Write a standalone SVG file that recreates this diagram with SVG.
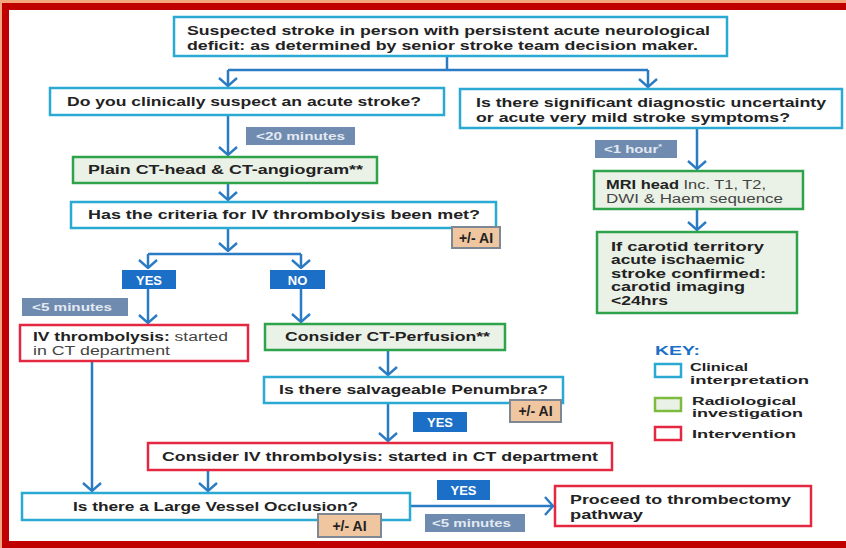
<svg xmlns="http://www.w3.org/2000/svg" width="846" height="548" viewBox="0 0 846 548">
<defs>
<marker id="chev" viewBox="0 0 10 20" refX="9" refY="10" markerWidth="10" markerHeight="20" markerUnits="userSpaceOnUse" orient="auto">
<path d="M1,1 L9,10 L1,19" fill="none" stroke="#2B7BC4" stroke-width="2.4"/>
</marker>
<style>
text{font-family:"Liberation Sans",Arial,sans-serif;fill:#222;}
.t{font-size:12.5px;font-weight:700;}
.n{font-weight:400;fill:#444;}
.clin{fill:#fff;stroke:#2AAAD2;stroke-width:2.5;}
.rad{fill:#EAF1E6;stroke:#2FA34B;stroke-width:2.5;}
.int{fill:#fff;stroke:#E52842;stroke-width:2.5;}
.yes{fill:#1C6FC7;}
.yt{font-size:13px;font-weight:700;fill:#fff;}
.grey{fill:#6F8BAF;}
.gt{font-size:11px;font-weight:700;fill:#E3E9F2;}
.ai{fill:#F0C6A0;stroke:#7D8894;stroke-width:2;}
.at{font-size:14px;font-weight:700;fill:#222;}
.c{fill:none;stroke:#2B7BC4;stroke-width:2.5;}
.ca{fill:none;stroke:#2B7BC4;stroke-width:2.5;marker-end:url(#chev);}
.key{font-size:13px;font-weight:700;fill:#1C6FC7;}
.k{font-size:11px;font-weight:700;}
.cr{font-size:12px;font-weight:700;}
</style>
</defs>
<rect x="0" y="0" width="846" height="548" fill="#F2A77C"/>
<rect x="2" y="3" width="844" height="545" fill="#C00000"/>
<rect x="9" y="10" width="837" height="531" fill="#fff"/>

<g id="connectors">
<path class="c" d="M447,56 V70 M228,70 H648"/>
<path class="ca" d="M228,70 V86"/>
<path class="ca" d="M648,70 V87"/>
<path class="ca" d="M228,115 V155"/>
<path class="ca" d="M228,183 V200"/>
<path class="ca" d="M228,228 V251"/>
<path class="c" d="M148,254 H301"/>
<path class="ca" d="M148,254 V268"/>
<path class="ca" d="M301,254 V268"/>
<path class="ca" d="M148,289 V323"/>
<path class="ca" d="M301,289 V322"/>
<path class="ca" d="M388,350 V375"/>
<path class="ca" d="M388,403 V441"/>
<path class="ca" d="M92,361 V491"/>
<path class="ca" d="M208,470 V491"/>
<path class="ca" d="M410,506 H553"/>
<path class="ca" d="M697,128 V169"/>
<path class="ca" d="M697,209 V230"/>
</g>

<g id="n-suspected">
<rect class="clin" x="174" y="17" width="553" height="39"/>
<text class="t" x="187" y="35" textLength="523" lengthAdjust="spacingAndGlyphs">Suspected stroke in person with persistent acute neurological</text>
<text class="t" x="187" y="50" textLength="511" lengthAdjust="spacingAndGlyphs">deficit: as determined by senior stroke team decision maker.</text>
</g>

<g id="n-clinically">
<rect class="clin" x="50" y="88" width="394" height="27"/>
<text class="t" x="67" y="106" textLength="354" lengthAdjust="spacingAndGlyphs">Do you clinically suspect an acute stroke?</text>
</g>

<g id="n-uncertainty">
<rect class="clin" x="460" y="89" width="382" height="39"/>
<text class="t" x="476" y="107" textLength="350" lengthAdjust="spacingAndGlyphs">Is there significant diagnostic uncertainty</text>
<text class="t" x="476" y="122" textLength="314" lengthAdjust="spacingAndGlyphs">or acute very mild stroke symptoms?</text>
</g>

<g id="l-20min">
<rect class="grey" x="246" y="127" width="109" height="18"/>
<text class="gt" x="256" y="140" textLength="89" lengthAdjust="spacingAndGlyphs">&lt;20 minutes</text>
</g>

<g id="n-plainct">
<rect class="rad" x="73" y="157" width="304" height="26"/>
<text class="t" x="88" y="174" textLength="275" lengthAdjust="spacingAndGlyphs">Plain CT-head &amp; CT-angiogram**</text>
</g>

<g id="n-criteria">
<rect class="clin" x="71" y="202" width="425" height="26"/>
<text class="t" x="88" y="219" textLength="392" lengthAdjust="spacingAndGlyphs">Has the criteria for IV thrombolysis been met?</text>
</g>

<g id="ai-1">
<rect class="ai" x="452" y="227" width="48" height="21"/>
<text class="at" x="476" y="242.5" text-anchor="middle">+/- AI</text>
</g>

<g id="l-yes1">
<rect class="yes" x="122" y="270" width="54" height="19"/>
<text class="yt" x="149" y="284.5" text-anchor="middle">YES</text>
</g>

<g id="l-no">
<rect class="yes" x="270" y="270" width="55" height="19"/>
<text class="yt" x="297.5" y="284.5" text-anchor="middle">NO</text>
</g>

<g id="l-5min1">
<rect class="grey" x="22" y="298" width="106" height="18"/>
<text class="gt" x="32" y="311" textLength="80" lengthAdjust="spacingAndGlyphs">&lt;5 minutes</text>
</g>

<g id="n-ivthrombolysis">
<rect class="int" x="20" y="325" width="228" height="36"/>
<text class="t" x="33" y="341" textLength="195" lengthAdjust="spacingAndGlyphs">IV thrombolysis:<tspan class="n"> started</tspan></text>
<text class="t n" x="33" y="355" textLength="137" lengthAdjust="spacingAndGlyphs">in CT department</text>
</g>

<g id="n-ctperfusion">
<rect class="rad" x="265" y="324" width="240" height="26"/>
<text class="t" x="285" y="341" textLength="205" lengthAdjust="spacingAndGlyphs">Consider CT-Perfusion**</text>
</g>

<g id="n-penumbra">
<rect class="clin" x="264" y="377" width="299" height="26"/>
<text class="t" x="279" y="394" textLength="269" lengthAdjust="spacingAndGlyphs">Is there salvageable Penumbra?</text>
</g>

<g id="ai-2">
<rect class="ai" x="510" y="400" width="51" height="22"/>
<text class="at" x="535.5" y="416" text-anchor="middle">+/- AI</text>
</g>

<g id="l-yes2">
<rect class="yes" x="413" y="412" width="54" height="20"/>
<text class="yt" x="440" y="427" text-anchor="middle">YES</text>
</g>

<g id="n-considerivt">
<rect class="int" x="148" y="443" width="464" height="27"/>
<text class="t" x="162" y="461" textLength="436" lengthAdjust="spacingAndGlyphs">Consider IV thrombolysis: started in CT department</text>
</g>

<g id="n-lvo">
<rect class="clin" x="22" y="493" width="388" height="27"/>
<text class="t" x="73" y="511" textLength="285" lengthAdjust="spacingAndGlyphs">Is there a Large Vessel Occlusion?</text>
</g>

<g id="ai-3">
<rect class="ai" x="318" y="514" width="63" height="23"/>
<text class="at" x="349.5" y="530.5" text-anchor="middle">+/- AI</text>
</g>

<g id="l-yes3">
<rect class="yes" x="437" y="480" width="53" height="20"/>
<text class="yt" x="463.5" y="495" text-anchor="middle">YES</text>
</g>

<g id="l-5min2">
<rect class="grey" x="425" y="514" width="100" height="18"/>
<text class="gt" x="432" y="527" textLength="79" lengthAdjust="spacingAndGlyphs">&lt;5 minutes</text>
</g>

<g id="n-thrombectomy">
<rect class="int" x="555" y="486" width="256" height="40"/>
<text class="t" x="570" y="504" textLength="221" lengthAdjust="spacingAndGlyphs">Proceed to thrombectomy</text>
<text class="t" x="570" y="519" textLength="73" lengthAdjust="spacingAndGlyphs">pathway</text>
</g>

<g id="l-1hour">
<rect class="grey" x="595" y="140" width="82" height="18"/>
<text class="gt" x="604" y="153" textLength="58" lengthAdjust="spacingAndGlyphs">&lt;1 hour<tspan font-size="7" dy="-4">*</tspan></text>
</g>

<g id="n-mri">
<rect class="rad" x="594" y="171" width="209" height="38"/>
<text class="t" x="606" y="189" textLength="160" lengthAdjust="spacingAndGlyphs">MRI head<tspan class="n"> Inc. T1, T2,</tspan></text>
<text class="t n" x="606" y="203" textLength="177" lengthAdjust="spacingAndGlyphs">DWI &amp; Haem sequence</text>
</g>

<g id="n-carotid">
<rect class="rad" x="597" y="232" width="200" height="81"/>
<text class="cr" x="611" y="250.5" textLength="153" lengthAdjust="spacingAndGlyphs">If carotid territory</text>
<text class="cr" x="611" y="264" textLength="134" lengthAdjust="spacingAndGlyphs">acute ischaemic</text>
<text class="cr" x="611" y="277.5" textLength="155" lengthAdjust="spacingAndGlyphs">stroke confirmed:</text>
<text class="cr" x="611" y="291" textLength="134" lengthAdjust="spacingAndGlyphs">carotid imaging</text>
<text class="cr" x="611" y="304.5" textLength="57" lengthAdjust="spacingAndGlyphs">&lt;24hrs</text>
</g>

<g id="key">
<text class="key" x="655" y="355" textLength="45" lengthAdjust="spacingAndGlyphs">KEY:</text>
<rect class="clin" x="655" y="364" width="26" height="13"/>
<text class="k" x="690" y="371" textLength="58" lengthAdjust="spacingAndGlyphs">Clinical</text>
<text class="k" x="690" y="383.5" textLength="119" lengthAdjust="spacingAndGlyphs">interpretation</text>
<rect class="rad" x="655" y="398" width="26" height="13" style="stroke:#7DBB3C"/>
<text class="k" x="692" y="404.5" textLength="104" lengthAdjust="spacingAndGlyphs">Radiological</text>
<text class="k" x="692" y="417" textLength="111" lengthAdjust="spacingAndGlyphs">investigation</text>
<rect class="int" x="655" y="427" width="26" height="13"/>
<text class="k" x="692" y="437.5" textLength="104" lengthAdjust="spacingAndGlyphs">Intervention</text>
</g>
</svg>
